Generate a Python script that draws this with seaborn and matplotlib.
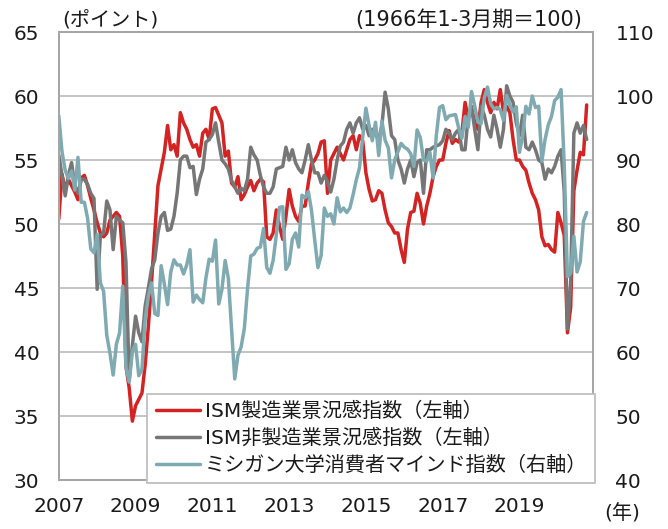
import numpy as np
import pandas as pd
import matplotlib
matplotlib.use("Agg")
import matplotlib.pyplot as plt
import seaborn as sns

# monthly data, Jan 2007 - Oct 2020
ism_mfg = [
    50.4, 53.9, 52.7, 53.5, 53.0, 52.5, 51.9, 53.6, 53.8, 53.0, 52.0, 51.1,  # 2007
    50.1, 49.3, 49.0, 49.3, 50.3, 50.6, 50.9, 50.6, 47.5, 38.9, 37.2, 34.6,  # 2008
    35.8, 36.3, 36.8, 39.0, 42.0, 45.5, 49.2, 53.0, 54.3, 55.6, 57.7, 55.8,  # 2009
    56.2, 55.3, 58.7, 57.9, 57.4, 56.6, 56.0, 56.2, 55.3, 57.1, 57.4, 56.6,  # 2010
    59.0, 59.1, 58.5, 57.9, 55.3, 55.7, 53.2, 52.9, 53.7, 51.9, 52.3, 52.9,  # 2011
    53.4, 52.6, 53.2, 53.5, 53.3, 49.0, 48.8, 49.3, 51.1, 49.8, 48.8, 50.6,  # 2012
    52.7, 51.4, 50.6, 50.2, 51.4, 51.4, 53.2, 54.7, 55.0, 55.5, 56.4, 56.5,  # 2013
    52.4, 55.0, 55.5, 56.0, 55.5, 55.0, 55.8, 56.6, 56.9, 55.8, 56.9, 56.5,  # 2014
    54.0, 52.7, 51.8, 51.9, 52.6, 52.4, 51.1, 50.1, 49.8, 49.3, 49.3, 48.0,  # 2015
    47.0, 49.6, 50.9, 51.0, 52.4, 51.6, 50.0, 51.4, 52.4, 53.7, 54.5, 55.0,  # 2016
    55.0, 56.3, 57.3, 56.3, 56.6, 56.4, 57.1, 59.5, 58.2, 59.0, 58.0, 57.4,  # 2017
    59.5, 60.5, 59.5, 58.7, 59.5, 59.0, 60.5, 58.7, 59.2, 58.7, 56.6, 55.0,  # 2018
    55.0, 54.5, 54.2, 53.2, 52.4, 51.9, 51.1, 49.0, 48.3, 48.4, 48.0, 47.8,  # 2019
    50.9, 50.1, 49.1, 41.5, 43.5, 52.6, 54.2, 55.6, 55.4, 59.3,              # 2020
]

ism_nonmfg = [
    55.4, 53.8, 52.2, 53.8, 54.8, 53.0, 52.4, 53.5, 53.5, 53.1, 52.4, 52.0,  # 2007
    44.9, 49.1, 49.3, 51.8, 51.1, 48.0, 50.6, 50.3, 50.1, 47.0, 37.8, 40.5,  # 2008
    42.8, 41.5, 40.8, 43.6, 45.0, 46.5, 47.2, 49.3, 50.6, 50.9, 49.5, 49.6,  # 2009
    50.6, 52.4, 55.0, 55.3, 55.3, 54.4, 54.5, 52.3, 53.5, 54.3, 56.4, 56.6,  # 2010
    57.0, 57.9, 56.4, 55.0, 54.7, 54.3, 53.4, 52.9, 52.4, 52.8, 52.6, 53.5,  # 2011
    56.0, 55.4, 55.0, 53.8, 52.9, 52.4, 52.4, 52.9, 54.3, 54.4, 54.5, 56.0,  # 2012
    55.0, 55.8, 54.8, 54.3, 54.0, 55.0, 56.2, 55.0, 54.0, 54.0, 53.2, 53.8,  # 2013
    53.3, 52.5, 53.5, 55.0, 56.1, 56.4, 57.4, 57.9, 57.1, 57.9, 58.3, 57.4,  # 2014
    57.7, 56.9, 57.4, 57.0, 56.6, 57.7, 60.3, 59.0, 56.9, 56.6, 55.0, 54.3,  # 2015
    53.2, 54.3, 55.0, 53.7, 54.8, 55.0, 52.4, 55.8, 55.8, 56.0, 56.1, 56.2,  # 2016
    56.5, 57.4, 57.1, 56.6, 57.1, 57.4, 55.8, 55.8, 58.5, 59.2, 57.4, 55.8,  # 2017
    59.2, 58.5, 57.4, 56.8, 58.5, 57.4, 56.0, 57.4, 60.8, 60.0, 59.5, 57.9,  # 2018
    56.9, 58.5, 56.0, 55.8, 56.4, 55.8, 55.0, 54.8, 53.5, 54.3, 54.0, 54.5,  # 2019
    55.3, 55.8, 52.5, 41.8, 45.4, 57.1, 57.9, 57.1, 57.7, 56.6,              # 2020
]

michigan = [
    96.9, 91.3, 88.4, 87.1, 88.3, 85.3, 90.4, 83.4, 83.4, 80.9, 76.1, 75.5,  # 2007
    78.4, 70.8, 69.5, 62.6, 59.8, 56.4, 61.2, 63.0, 70.3, 57.6, 55.3, 60.1,  # 2008
    61.2, 56.3, 57.3, 65.1, 68.7, 70.8, 66.0, 65.7, 73.5, 70.6, 67.4, 72.5,  # 2009
    74.4, 73.6, 73.6, 72.2, 73.6, 76.0, 67.8, 68.9, 68.2, 67.7, 71.6, 74.5,  # 2010
    74.2, 77.5, 67.5, 69.8, 74.3, 71.5, 63.7, 55.8, 59.5, 60.8, 63.7, 69.9,  # 2011
    75.0, 75.3, 76.2, 76.4, 79.3, 73.2, 72.3, 74.3, 78.3, 82.6, 82.7, 72.9,  # 2012
    73.8, 77.6, 78.6, 76.4, 84.5, 84.1, 85.1, 82.1, 77.5, 73.2, 75.1, 82.5,  # 2013
    81.2, 81.6, 80.0, 84.1, 81.9, 82.5, 81.8, 82.5, 84.6, 86.9, 88.8, 93.6,  # 2014
    98.1, 95.4, 93.0, 95.9, 90.7, 96.1, 93.1, 91.9, 87.2, 90.0, 91.3, 92.6,  # 2015
    92.0, 91.7, 91.0, 89.0, 94.7, 93.5, 90.0, 89.8, 91.2, 87.2, 93.8, 98.2,  # 2016
    98.5, 96.3, 96.9, 97.0, 97.1, 95.0, 93.4, 96.8, 95.1, 100.7, 98.5, 95.9, # 2017
    95.7, 99.7, 101.4, 98.8, 98.0, 98.2, 97.9, 96.2, 100.1, 98.6, 97.5, 98.3, # 2018
    91.2, 93.8, 98.4, 97.2, 100.0, 98.2, 98.4, 89.8, 93.2, 95.5, 96.8, 99.3, # 2019
    99.8, 101.0, 89.1, 71.8, 72.3, 78.1, 72.5, 74.1, 80.4, 81.8,             # 2020
]

labels = ["ISM製造業景況感指数（左軸）", "ISM非製造業景況感指数（左軸）", "ミシガン大学消費者マインド指数（右軸）"]
colors = ["#D42323", "#767676", "#7FAAB1"]

months = pd.date_range("2007-01-01", periods=len(michigan), freq="MS")
df = pd.DataFrame({
    "year": months.year + (months.month - 1) / 12,
    "mfg": ism_mfg,
    "nonmfg": ism_nonmfg,
    "mich": michigan,
})

sns.set_style("white")
# wide latin digits first, CJK glyphs fall back to Noto
plt.rcParams["font.family"] = ["DejaVu Sans", "Noto Sans CJK JP"]
fs = 14.5
txt = "#1a1a1a"

fig, ax = plt.subplots(figsize=(6.68, 5.29), dpi=100)
fig.subplots_adjust(left=0.088, right=0.888, top=0.9395, bottom=0.0926)
ax2 = ax.twinx()

sns.lineplot(data=df, x="year", y="mfg", ax=ax, color=colors[0], lw=2.5, label=labels[0], legend=False)
sns.lineplot(data=df, x="year", y="nonmfg", ax=ax, color=colors[1], lw=2.5, label=labels[1], legend=False)
sns.lineplot(data=df, x="year", y="mich", ax=ax2, color=colors[2], lw=2.5, label=labels[2], legend=False)

ax.set_ylim(30, 65)
ax.set_yticks(np.arange(30, 66, 5))
ax2.set_ylim(40, 110)
ax2.set_yticks(np.arange(40, 111, 10))
ax.set_xlim(2007, 2020.92)
ax.set_xticks(np.arange(2007, 2020, 2))
ax.set_xticklabels([str(y) for y in range(2007, 2020, 2)])
ax.set_xticks(np.arange(2008, 2021, 2), minor=True)
ax.set_xlabel("")
ax.set_ylabel("")
ax2.set_ylabel("")

ax.grid(axis="y", color="#BFBFBF", lw=1.3)
ax.set_axisbelow(True)
for a in (ax, ax2):
    for s in a.spines.values():
        s.set_color("#A6A6A6")
        s.set_linewidth(1.3)
ax.tick_params(axis="y", length=0, pad=14, labelsize=fs, colors=txt)
ax2.tick_params(axis="y", length=0, pad=16, labelsize=fs, colors=txt)
ax.tick_params(axis="x", which="major", direction="out", length=5, labelsize=fs,
               labelcolor=txt, color="#A6A6A6", pad=7)
ax.tick_params(axis="x", which="minor", direction="in", length=4, color="#A6A6A6")

h1, l1 = ax.get_legend_handles_labels()
h2, l2 = ax2.get_legend_handles_labels()
leg = ax2.legend(h1 + h2, l1 + l2, loc="lower right", bbox_to_anchor=(1.004, -0.007),
                 fontsize=fs, frameon=True, fancybox=False, edgecolor="#BFBFBF",
                 handlelength=2.2, handletextpad=0.25, labelspacing=0.38, borderpad=0.4,
                 borderaxespad=0)
leg.get_frame().set_linewidth(1.3)
leg.get_frame().set_alpha(1)
for t in leg.get_texts():
    t.set_color(txt)

fig.text(0.093, 0.962, "(ポイント)", fontsize=fs, ha="left", va="center", color=txt)
fig.text(0.872, 0.962, "(1966年1-3月期＝100)", fontsize=15, ha="right", va="center", color=txt)
fig.text(0.932, 0.028, "(年)", fontsize=fs, ha="center", va="center", color=txt)

fig.savefig("out.png", dpi=100)
